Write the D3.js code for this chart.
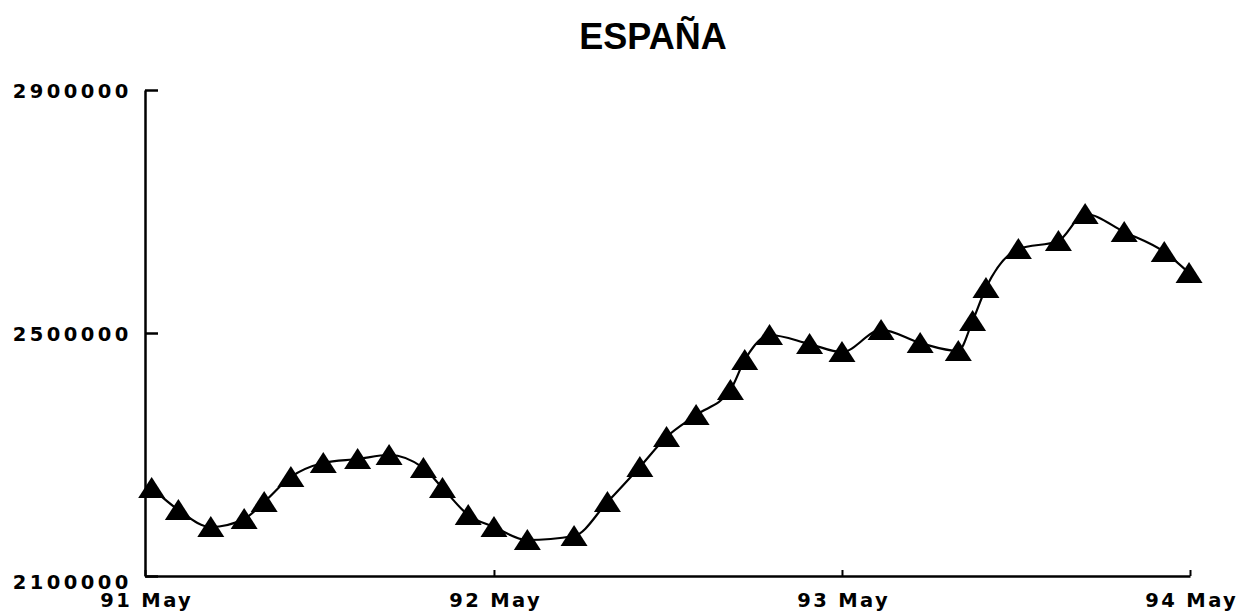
<!DOCTYPE html>
<html>
<head>
<meta charset="utf-8">
<script src="https://cdn.jsdelivr.net/npm/d3@7"></script>
<style>
  html, body { margin: 0; padding: 0; background: #fff; }
  svg { display: block; }
</style>
</head>
<body>
<svg id="chart" width="1239" height="613"></svg>
<script>
const title = "ESPAÑA";

const dates = [
  "1991-05-08","1991-06-05","1991-07-09","1991-08-13","1991-09-03","1991-10-01",
  "1991-11-04","1991-12-10","1992-01-12","1992-02-17","1992-03-08","1992-04-04",
  "1992-05-01","1992-06-05","1992-07-24","1992-08-28","1992-10-01","1992-10-29",
  "1992-11-29","1993-01-04","1993-01-19","1993-02-14","1993-03-28","1993-05-01",
  "1993-06-11","1993-07-22","1993-08-31","1993-09-15","1993-09-29","1993-11-02",
  "1993-12-14","1994-01-11","1994-02-21","1994-04-04","1994-04-30"
];

const values = [
  2245000, 2208700, 2180700, 2193900, 2221800, 2263000,
  2286000, 2292600, 2299200, 2277800, 2245000, 2200400,
  2180700, 2159300, 2165900, 2221800, 2279500, 2328800,
  2365000, 2406200, 2455600, 2496700, 2481900, 2468700,
  2505000, 2483600, 2470400, 2519800, 2574100, 2638300,
  2651500, 2695900, 2666300, 2633350, 2598800
];

const xTickDates = ["1991-05-01","1992-05-01","1993-05-01","1994-05-01"];
const xTickLabels = ["91 May","92 May","93 May","94 May"];
const yTickValues = [2100000, 2500000, 2900000];
const yTickLabels = ["2100000","2500000","2900000"];

const parse = d3.utcParse("%Y-%m-%d");
const data = dates.map((d, i) => ({ date: parse(d), value: values[i] }));

const svg = d3.select("#chart");

const x = d3.scaleUtc()
  .domain([parse(xTickDates[0]), parse(xTickDates[xTickDates.length - 1])])
  .range([145, 1190]);
const y = d3.scaleLinear()
  .domain([2100000, 2900000])
  .range([576, 90]);

// Title
svg.append("text")
  .attr("x", 653).attr("y", 49)
  .attr("text-anchor", "middle")
  .attr("font-family", "'Liberation Sans', Arial, sans-serif")
  .attr("font-weight", "bold")
  .attr("font-size", 36)
  .attr("fill", "#000")
  .text(title);

// Y axis
const yAxis = d3.axisLeft(y)
  .tickValues(yTickValues)
  .tickFormat((d, i) => yTickLabels[i])
  .tickSize(-13)
  .tickSizeOuter(0);
const gy = svg.append("g").attr("transform", "translate(145,0)").call(yAxis);
gy.select(".domain").attr("stroke", "#000").attr("stroke-width", 2.5);
gy.selectAll(".tick line").attr("stroke", "#000").attr("stroke-width", 2.5);
gy.selectAll(".tick text")
  .attr("x", -17 + 3.6)
  .attr("dy", (d) => d === 2100000 ? "0.65em" : "0.36em")
  .attr("font-family", "'DejaVu Sans', sans-serif")
  .attr("font-weight", "bold")
  .attr("font-size", 19.5)
  .attr("letter-spacing", 3.4)
  .attr("fill", "#000");

// X axis
const xAxis = d3.axisBottom(x)
  .tickValues(xTickDates.map(parse))
  .tickFormat((d, i) => xTickLabels[i])
  .tickSize(-6)
  .tickSizeOuter(0);
const gx = svg.append("g").attr("transform", "translate(0,576)").call(xAxis);
gx.select(".domain").attr("stroke", "#000").attr("stroke-width", 2.5);
gx.selectAll(".tick line").attr("stroke", "#000").attr("stroke-width", 2);
gx.selectAll(".tick text")
  .attr("y", 31)
  .attr("dy", 0)
  .attr("dx", 1.2)
  .attr("font-family", "'DejaVu Sans', sans-serif")
  .attr("font-weight", "bold")
  .attr("font-size", 19.5)
  .attr("letter-spacing", 2.4)
  .attr("fill", "#000");
gy.raise();

// Line
const line = d3.line()
  .x(d => x(d.date))
  .y(d => y(d.value))
  .curve(d3.curveMonotoneX);
svg.append("path")
  .datum(data)
  .attr("fill", "none")
  .attr("stroke", "#000")
  .attr("stroke-width", 2.2)
  .attr("d", line);

// Triangle markers (shape centred on the data point)
const tri = d3.path();
tri.moveTo(0, -11);
tri.lineTo(13.5, 10);
tri.lineTo(-13.5, 10);
tri.closePath();
svg.append("g")
  .selectAll("path")
  .data(data)
  .join("path")
  .attr("transform", d => `translate(${x(d.date)},${y(d.value)})`)
  .attr("d", tri.toString())
  .attr("fill", "#000");
</script>
</body>
</html>
